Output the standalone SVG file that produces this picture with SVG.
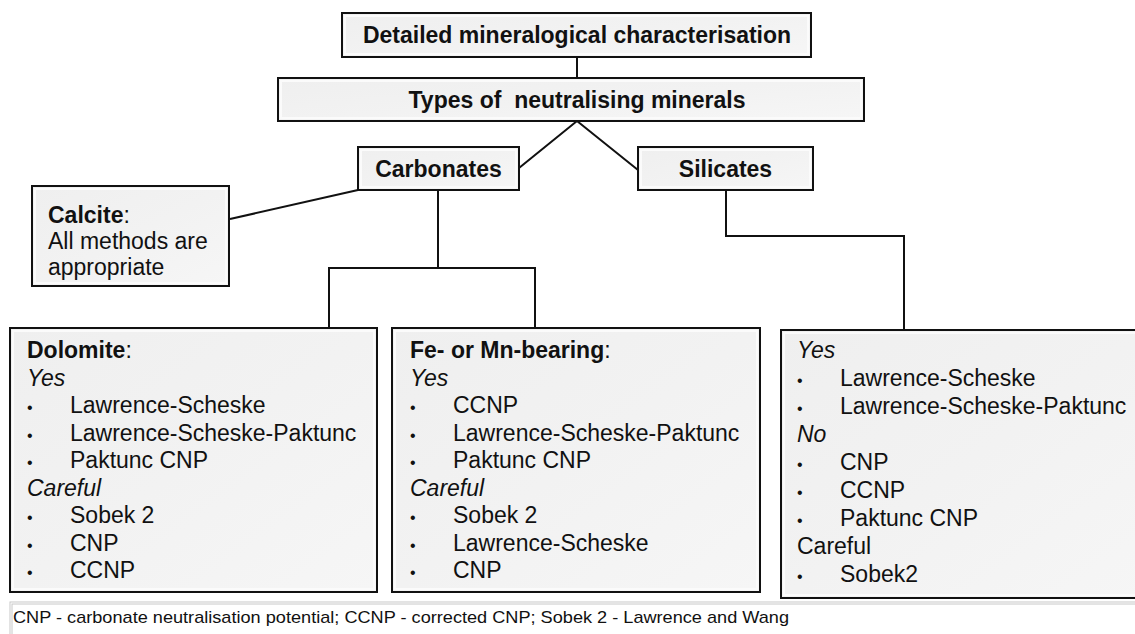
<svg xmlns="http://www.w3.org/2000/svg" width="1135" height="634" viewBox="0 0 1135 634">
<style>
.box{fill:url(#g);stroke:#111;stroke-width:2}
.inner{fill:none;stroke:#fbfbfb;stroke-width:2}
.t{font-family:"Liberation Sans",Arial,sans-serif;font-size:23px;fill:#111}
.b{font-weight:bold}
.i{font-style:italic}
.bu{font-family:"Liberation Sans",Arial,sans-serif;font-size:16px;fill:#111}
.c{fill:none;stroke:#111;stroke-width:2}
</style>
<defs>
<linearGradient id="g" x1="0" y1="0" x2="1" y2="1">
<stop offset="0" stop-color="#efefef"/>
<stop offset="0.5" stop-color="#f2f2f2"/>
<stop offset="1" stop-color="#f6f6f6"/>
</linearGradient>
</defs>
<rect width="1135" height="634" fill="#fff"/>

<g id="connectors">
<line class="c" x1="577" y1="57" x2="577" y2="78"/>
<polyline class="c" points="519,168 577,121 638,170"/>
<line class="c" x1="230" y1="219" x2="358" y2="190"/>
<polyline class="c" points="438,190 438,268"/>
<polyline class="c" points="329,328 329,268 535,268 535,328"/>
<polyline class="c" points="726,190 726,236 904,236 904,330"/>
</g>

<g id="title">
<rect class="box" x="342" y="13" width="469" height="44"/>
<rect class="inner" x="345" y="16" width="463" height="38"/>
<text class="t b" x="577" y="43" text-anchor="middle">Detailed mineralogical characterisation</text>
</g>

<g id="types">
<rect class="box" x="278" y="78" width="586" height="43"/>
<rect class="inner" x="281" y="81" width="580" height="37"/>
<text class="t b" x="577" y="108" text-anchor="middle" xml:space="preserve">Types of  neutralising minerals</text>
</g>

<g id="carbonates">
<rect class="box" x="358" y="147" width="161" height="43"/>
<rect class="inner" x="361" y="150" width="155" height="37"/>
<text class="t b" x="438.5" y="177" text-anchor="middle">Carbonates</text>
</g>

<g id="silicates">
<rect class="box" x="638" y="147" width="175" height="43"/>
<rect class="inner" x="641" y="150" width="169" height="37"/>
<text class="t b" x="725.5" y="177" text-anchor="middle">Silicates</text>
</g>

<g id="calcite">
<rect class="box" x="32" y="186" width="197" height="100"/>
<rect class="inner" x="35" y="189" width="191" height="94"/>
<text class="t" x="48" y="223"><tspan class="b">Calcite</tspan>:</text>
<text class="t" x="48" y="249">All methods are</text>
<text class="t" x="48" y="275">appropriate</text>
</g>

<g id="dolomite">
<rect class="box" x="10" y="328" width="367" height="264"/>
<rect class="inner" x="13" y="331" width="361" height="258"/>
<text class="t" x="27" y="358"><tspan class="b">Dolomite</tspan>:</text>
<text class="t i" x="27" y="385.5">Yes</text>
<text class="bu" x="27" y="413">•</text><text class="t" x="70" y="413">Lawrence-Scheske</text>
<text class="bu" x="27" y="440.5">•</text><text class="t" x="70" y="440.5">Lawrence-Scheske-Paktunc</text>
<text class="bu" x="27" y="468">•</text><text class="t" x="70" y="468">Paktunc CNP</text>
<text class="t i" x="27" y="495.5">Careful</text>
<text class="bu" x="27" y="523">•</text><text class="t" x="70" y="523">Sobek 2</text>
<text class="bu" x="27" y="550.5">•</text><text class="t" x="70" y="550.5">CNP</text>
<text class="bu" x="27" y="578">•</text><text class="t" x="70" y="578">CCNP</text>
</g>

<g id="fe-mn">
<rect class="box" x="392" y="328" width="368" height="264"/>
<rect class="inner" x="395" y="331" width="362" height="258"/>
<text class="t" x="410" y="358"><tspan class="b">Fe- or Mn-bearing</tspan>:</text>
<text class="t i" x="410" y="385.5">Yes</text>
<text class="bu" x="410" y="413">•</text><text class="t" x="453" y="413">CCNP</text>
<text class="bu" x="410" y="440.5">•</text><text class="t" x="453" y="440.5">Lawrence-Scheske-Paktunc</text>
<text class="bu" x="410" y="468">•</text><text class="t" x="453" y="468">Paktunc CNP</text>
<text class="t i" x="410" y="495.5">Careful</text>
<text class="bu" x="410" y="523">•</text><text class="t" x="453" y="523">Sobek 2</text>
<text class="bu" x="410" y="550.5">•</text><text class="t" x="453" y="550.5">Lawrence-Scheske</text>
<text class="bu" x="410" y="578">•</text><text class="t" x="453" y="578">CNP</text>
</g>

<g id="silicate-methods">
<rect class="box" x="781" y="330" width="370" height="268"/>
<rect class="inner" x="784" y="333" width="364" height="262"/>
<text class="t i" x="797" y="358">Yes</text>
<text class="bu" x="797" y="386">•</text><text class="t" x="840" y="386">Lawrence-Scheske</text>
<text class="bu" x="797" y="414">•</text><text class="t" x="840" y="414">Lawrence-Scheske-Paktunc</text>
<text class="t i" x="797" y="442">No</text>
<text class="bu" x="797" y="470">•</text><text class="t" x="840" y="470">CNP</text>
<text class="bu" x="797" y="498">•</text><text class="t" x="840" y="498">CCNP</text>
<text class="bu" x="797" y="526">•</text><text class="t" x="840" y="526">Paktunc CNP</text>
<text class="t" x="797" y="554">Careful</text>
<text class="bu" x="797" y="582">•</text><text class="t" x="840" y="582">Sobek2</text>
</g>

<g id="footer">
<rect x="11" y="603" width="1140" height="40" fill="#fff" stroke="#c8c8c8" stroke-width="3"/>
<rect x="11" y="603" width="1140" height="40" fill="none" stroke="#fff" stroke-width="1"/>
<text x="13" y="623" font-family="'Liberation Sans',Arial,sans-serif" font-size="17" fill="#111" textLength="776" lengthAdjust="spacingAndGlyphs">CNP - carbonate neutralisation potential; CCNP - corrected CNP; Sobek 2 - Lawrence and Wang</text>
</g>
</svg>
